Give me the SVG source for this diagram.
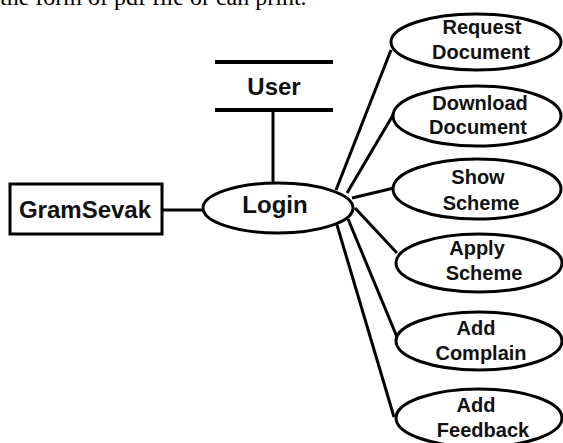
<svg xmlns="http://www.w3.org/2000/svg" width="563" height="443" viewBox="0 0 563 443">
<style>
.lbl{font-family:"Liberation Sans",Arial,sans-serif;font-weight:bold;font-size:20px;fill:#111;text-anchor:middle}
.big{font-size:24px}
.shape{fill:#fff;stroke:#000;stroke-width:3}
.conn line{stroke:#000;stroke-width:3}
.cap{font-family:"Liberation Serif","Times New Roman",serif;font-size:24px;fill:#000}
</style>
<rect width="563" height="443" fill="#fff"/>
<text class="cap" x="0" y="5">the form of pdf file or can print.</text>
<g class="conn" id="connectors">
<line x1="273" y1="110" x2="273" y2="183"/>
<line x1="163" y1="210" x2="202" y2="210"/>
<line x1="336" y1="190" x2="391" y2="50"/>
<line x1="347" y1="193" x2="393" y2="115"/>
<line x1="352" y1="198" x2="394" y2="188"/>
<line x1="355" y1="208" x2="397" y2="253"/>
<line x1="348" y1="219" x2="397" y2="337"/>
<line x1="337" y1="225" x2="394" y2="417"/>
</g>
<g id="user">
<line x1="215" y1="62" x2="333" y2="62" stroke="#000" stroke-width="4"/>
<line x1="215" y1="110" x2="333" y2="110" stroke="#000" stroke-width="4"/>
<text class="lbl big" x="274" y="95">User</text>
</g>
<g id="gramsevak">
<rect class="shape" x="10" y="184" width="152" height="50"/>
<text class="lbl big" x="85" y="218">GramSevak</text>
</g>
<g id="login">
<ellipse class="shape" cx="278" cy="208" rx="75" ry="25"/>
<text class="lbl big" x="275" y="213">Login</text>
</g>
<g id="request">
<ellipse class="shape" cx="476" cy="42" rx="85" ry="28"/>
<text class="lbl" x="482" y="34">Request</text>
<text class="lbl" x="481" y="59">Document</text>
</g>
<g id="download">
<ellipse class="shape" cx="477" cy="116" rx="84" ry="30"/>
<text class="lbl" x="480" y="110">Download</text>
<text class="lbl" x="478" y="134">Document</text>
</g>
<g id="show">
<ellipse class="shape" cx="477" cy="189" rx="84" ry="30"/>
<text class="lbl" x="478" y="184">Show</text>
<text class="lbl" x="481" y="210">Scheme</text>
</g>
<g id="apply">
<ellipse class="shape" cx="479" cy="263" rx="83" ry="29"/>
<text class="lbl" x="477" y="255">Apply</text>
<text class="lbl" x="484" y="280">Scheme</text>
</g>
<g id="complain">
<ellipse class="shape" cx="479" cy="341" rx="83" ry="29"/>
<text class="lbl" x="476" y="335">Add</text>
<text class="lbl" x="481" y="360">Complain</text>
</g>
<g id="feedback">
<ellipse class="shape" cx="479" cy="418" rx="83" ry="29"/>
<text class="lbl" x="476" y="412">Add</text>
<text class="lbl" x="483" y="437">Feedback</text>
</g>
</svg>
